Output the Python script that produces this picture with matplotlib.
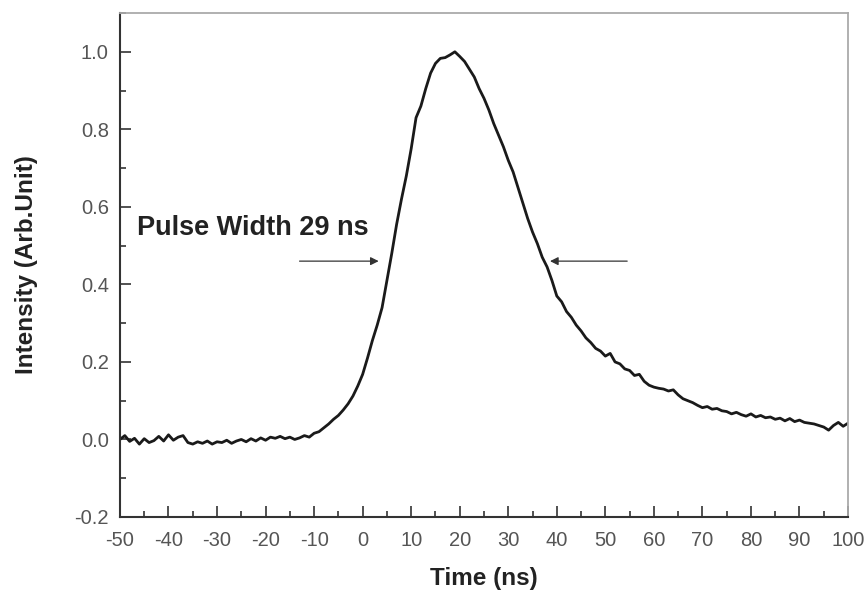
import numpy as np
import matplotlib.pyplot as plt
from matplotlib.ticker import MultipleLocator

# time axis (ns) and normalised intensity
t = np.arange(-50, 101, 1)
intensity = [
    0.000, 0.010, -0.005, 0.003, -0.012, 0.002, -0.008, -0.003, 0.008, -0.004,
    0.012, -0.002, 0.006, 0.010, -0.008, -0.012, -0.006, -0.010, -0.004, -0.012,
    -0.006, -0.008, -0.002, -0.010, -0.004, 0.000, -0.006, 0.002, -0.004, 0.004,
    -0.002, 0.006, 0.003, 0.008, 0.002, 0.006, 0.000, 0.004, 0.010, 0.006,
    0.016, 0.020, 0.030, 0.040, 0.052, 0.062, 0.076, 0.092, 0.112, 0.138,
    0.168, 0.210, 0.255, 0.295, 0.340, 0.410, 0.480, 0.555, 0.620, 0.680,
    0.750, 0.830, 0.860, 0.905, 0.945, 0.970, 0.983, 0.985, 0.992, 1.000,
    0.988, 0.975, 0.955, 0.935, 0.905, 0.880, 0.850, 0.815, 0.785, 0.755,
    0.720, 0.690, 0.650, 0.610, 0.570, 0.535, 0.505, 0.470, 0.445, 0.410,
    0.370, 0.355, 0.330, 0.315, 0.295, 0.280, 0.262, 0.250, 0.235, 0.228,
    0.215, 0.222, 0.200, 0.195, 0.182, 0.178, 0.165, 0.168, 0.150, 0.140,
    0.135, 0.132, 0.130, 0.125, 0.128, 0.115, 0.105, 0.100, 0.095, 0.088,
    0.082, 0.085, 0.078, 0.080, 0.074, 0.072, 0.066, 0.070, 0.064, 0.060,
    0.066, 0.058, 0.062, 0.056, 0.058, 0.052, 0.055, 0.048, 0.054, 0.046,
    0.050, 0.044, 0.042, 0.040, 0.036, 0.032, 0.024, 0.036, 0.044, 0.034,
    0.042,
]

# FWHM markers
half_level = 0.46
left_arrow = (-13.0, 3.3)
right_arrow = (54.5, 38.6)
label = 'Pulse Width 29 ns'

plt.rcParams['font.family'] = ['Liberation Sans', 'DejaVu Sans']
plt.rcParams['axes.unicode_minus'] = False

fig = plt.figure(figsize=(8.68, 5.92), dpi=100)
ax = fig.add_axes([0.1382, 0.1267, 0.8388, 0.8513])

ax.plot(t, intensity, color='#1a1a1a', lw=2.0)

ax.annotate('', xy=(left_arrow[1], half_level), xytext=(left_arrow[0], half_level),
            arrowprops=dict(arrowstyle='-|>', color='#333333', lw=0.9,
                            mutation_scale=12, shrinkA=0, shrinkB=0))
ax.annotate('', xy=(right_arrow[1], half_level), xytext=(right_arrow[0], half_level),
            arrowprops=dict(arrowstyle='-|>', color='#333333', lw=0.9,
                            mutation_scale=12, shrinkA=0, shrinkB=0))
ax.text(-46.4, 0.545, label, fontsize=19.5, fontweight='bold', color='#222222',
        va='center', ha='left')

ax.set_xlim(-50, 100)
ax.set_ylim(-0.2, 1.1)
ax.xaxis.set_major_locator(MultipleLocator(10))
ax.xaxis.set_minor_locator(MultipleLocator(5))
ax.yaxis.set_major_locator(MultipleLocator(0.2))
ax.yaxis.set_minor_locator(MultipleLocator(0.1))
ax.yaxis.set_major_formatter(plt.FuncFormatter(lambda v, p: '%.1f' % v))

ax.tick_params(which='both', direction='in', top=False, right=False,
               colors='#333333', labelcolor='#555555', labelsize=14.5, width=1.2)
ax.tick_params(axis='x', which='major', length=8, pad=10)
ax.tick_params(axis='y', which='major', length=8, pad=8)
ax.tick_params(which='minor', length=4)

for side in ['left', 'bottom']:
    ax.spines[side].set_linewidth(1.5)
    ax.spines[side].set_color('#333333')
for side in ['top', 'right']:
    ax.spines[side].set_linewidth(1.3)
    ax.spines[side].set_color('#aaaaaa')

ax.set_xlabel('Time (ns)', fontsize=17.5, fontweight='bold', color='#222222', labelpad=12)
ax.set_ylabel('Intensity (Arb.Unit)', fontsize=17.5, fontweight='bold', color='#222222', labelpad=26)

fig.savefig('out.png', dpi=100, facecolor='white')
